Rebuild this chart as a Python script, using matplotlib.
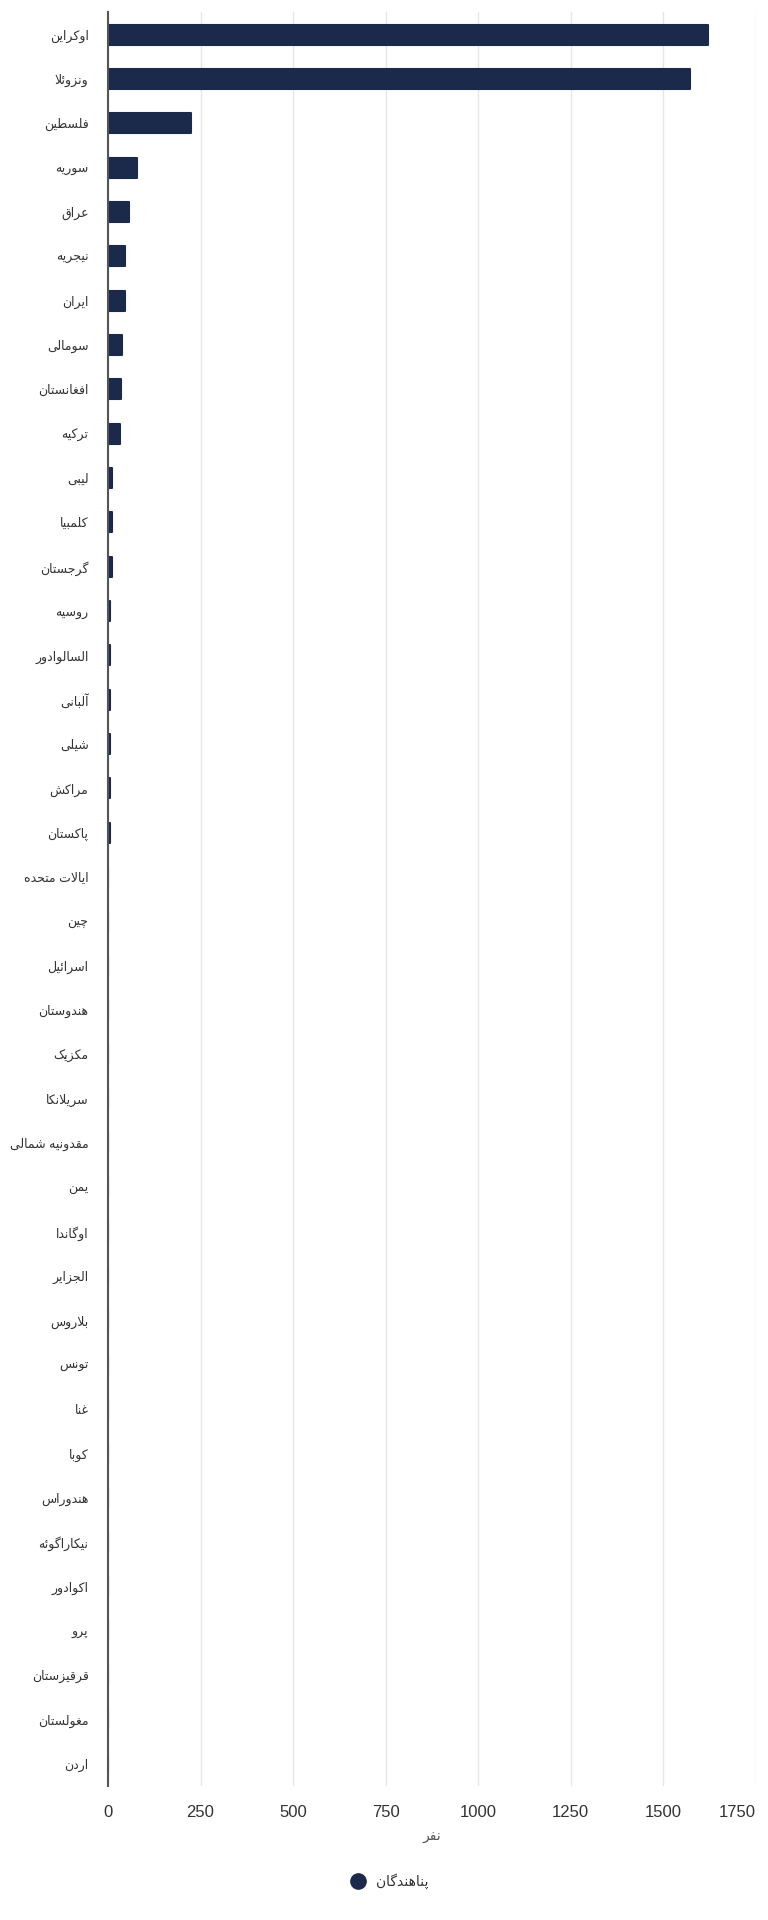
import matplotlib

matplotlib.use("Agg")
import matplotlib.pyplot as plt
from matplotlib.lines import Line2D

# ------------------------------------------------------------------
# Data
# ------------------------------------------------------------------

countries = [
    "اوکراین", "ونزوئلا", "فلسطین", "سوریه", "عراق", "نیجریه", "ایران",
    "سومالی", "افغانستان", "ترکیه", "لیبی", "کلمبیا", "گرجستان", "روسیه",
    "السالوادور", "آلبانی", "شیلی", "مراکش", "پاکستان", "ایالات متحده",
    "چین", "اسرائیل", "هندوستان", "مکزیک", "سریلانکا", "مقدونیه شمالی",
    "یمن", "اوگاندا", "الجزایر", "بلاروس", "تونس", "غنا", "کوبا",
    "هندوراس", "نیکاراگوئه", "اکوادور", "پرو", "قرقیزستان", "مغولستان",
    "اردن",
]
refugees = [
    1620, 1572, 224, 79, 58, 47, 47, 37, 36, 33, 11, 11, 11, 5,
    5, 5, 5, 5, 5, 1, 1, 1, 1, 1, 1, 1, 1, 1, 1, 1, 1, 1, 1,
    1, 1, 1, 1, 1, 1, 1,
]
x_ticks = [0, 250, 500, 750, 1000, 1250, 1500, 1750]
x_label = "نفر"
series_name = "پناهندگان"

BAR_COLOR = "#1b2a4b"

# ------------------------------------------------------------------
# Minimal Persian shaping (matplotlib has no complex text layout)
# ------------------------------------------------------------------

# letter -> (isolated, final, initial, medial); two entries = joins right only
_FORMS = {
    "ا": (0xFE8D, 0xFE8E), "آ": (0xFE81, 0xFE82),
    "ب": (0xFE8F, 0xFE90, 0xFE91, 0xFE92), "پ": (0xFB56, 0xFB57, 0xFB58, 0xFB59),
    "ت": (0xFE95, 0xFE96, 0xFE97, 0xFE98), "ث": (0xFE99, 0xFE9A, 0xFE9B, 0xFE9C),
    "ج": (0xFE9D, 0xFE9E, 0xFE9F, 0xFEA0), "چ": (0xFB7A, 0xFB7B, 0xFB7C, 0xFB7D),
    "ح": (0xFEA1, 0xFEA2, 0xFEA3, 0xFEA4), "خ": (0xFEA5, 0xFEA6, 0xFEA7, 0xFEA8),
    "د": (0xFEA9, 0xFEAA), "ذ": (0xFEAB, 0xFEAC), "ر": (0xFEAD, 0xFEAE),
    "ز": (0xFEAF, 0xFEB0), "ژ": (0xFB8A, 0xFB8B),
    "س": (0xFEB1, 0xFEB2, 0xFEB3, 0xFEB4), "ش": (0xFEB5, 0xFEB6, 0xFEB7, 0xFEB8),
    "ص": (0xFEB9, 0xFEBA, 0xFEBB, 0xFEBC), "ض": (0xFEBD, 0xFEBE, 0xFEBF, 0xFEC0),
    "ط": (0xFEC1, 0xFEC2, 0xFEC3, 0xFEC4), "ظ": (0xFEC5, 0xFEC6, 0xFEC7, 0xFEC8),
    "ع": (0xFEC9, 0xFECA, 0xFECB, 0xFECC), "غ": (0xFECD, 0xFECE, 0xFECF, 0xFED0),
    "ف": (0xFED1, 0xFED2, 0xFED3, 0xFED4), "ق": (0xFED5, 0xFED6, 0xFED7, 0xFED8),
    "ک": (0xFB8E, 0xFB8F, 0xFB90, 0xFB91), "گ": (0xFB92, 0xFB93, 0xFB94, 0xFB95),
    "ل": (0xFEDD, 0xFEDE, 0xFEDF, 0xFEE0), "م": (0xFEE1, 0xFEE2, 0xFEE3, 0xFEE4),
    "ن": (0xFEE5, 0xFEE6, 0xFEE7, 0xFEE8), "و": (0xFEED, 0xFEEE),
    "ه": (0xFEE9, 0xFEEA, 0xFEEB, 0xFEEC), "ی": (0xFBFC, 0xFBFD, 0xFBFE, 0xFBFF),
    "ئ": (0xFE89, 0xFE8A, 0xFE8B, 0xFE8C),
}
_LAM_ALEF = {"ا": (0xFEFB, 0xFEFC), "آ": (0xFEF5, 0xFEF6)}


def shape(text: str) -> str:
    """Return text in joined presentation forms, in visual (LTR) order."""
    text = text.replace("ي", "ی").replace("ك", "ک")
    out = []
    i = 0
    while i < len(text):
        ch = text[i]
        forms = _FORMS.get(ch)
        if forms is None:
            out.append(ch)
            i += 1
            continue
        prev = text[i - 1] if i > 0 else ""
        joins_prev = prev in _FORMS and len(_FORMS[prev]) == 4
        nxt = text[i + 1] if i + 1 < len(text) else ""
        if ch == "ل" and nxt in _LAM_ALEF:
            out.append(chr(_LAM_ALEF[nxt][1 if joins_prev else 0]))
            i += 2
            continue
        joins_next = len(forms) == 4 and nxt in _FORMS
        if joins_prev and joins_next:
            code = forms[3]
        elif joins_prev:
            code = forms[1]
        elif joins_next:
            code = forms[2]
        else:
            code = forms[0]
        out.append(chr(code))
        i += 1
    return "".join(reversed(out))


# ------------------------------------------------------------------
# Plot
# ------------------------------------------------------------------

plt.rcParams["font.family"] = ["Liberation Sans", "DejaVu Sans"]

fig = plt.figure(figsize=(7.68, 19.2), dpi=100)
ax = fig.add_axes([0.1406, 0.0698, 0.984 - 0.1406, 0.9935 - 0.0698])

y = list(range(len(countries)))
ax.barh(
    y, refugees, height=0.45, color=BAR_COLOR, edgecolor=BAR_COLOR,
    linewidth=1.5, joinstyle="round", zorder=2,
)

ax.set_ylim(len(countries) - 0.5, -0.5)
ax.set_xlim(0, 1750)
ax.set_yticks(y)
ax.set_yticklabels([shape(c) for c in countries], fontsize=9, color="#333333")
ax.set_xticks(x_ticks)
ax.set_xticklabels([str(t) for t in x_ticks], fontsize=12, color="#333333")
# keep the last tick label inside the figure, like the source chart does
ax.get_xticklabels()[-1].set_horizontalalignment("right")
ax.tick_params(axis="y", length=0, pad=14)
ax.tick_params(axis="x", length=0, pad=14)

ax.grid(axis="x", color="#e6e6e6", linewidth=1, zorder=0)
ax.set_axisbelow(True)
for side in ("top", "right", "bottom"):
    ax.spines[side].set_visible(False)
ax.spines["left"].set_color("#555555")
ax.spines["left"].set_linewidth(1.5)
ax.spines["left"].set_zorder(3)

ax.set_xlabel(shape(x_label), fontsize=10, color="#555555", labelpad=6)

handle = Line2D([], [], marker="o", linestyle="none", markersize=11,
                markerfacecolor=BAR_COLOR, markeredgecolor=BAR_COLOR)
fig.legend([handle], [shape(series_name)], loc="center", bbox_to_anchor=(0.503, 0.0203),
           frameon=False, fontsize=10, handletextpad=0.3, labelcolor="#333333")

fig.savefig("out.png", dpi=100, facecolor="white")
